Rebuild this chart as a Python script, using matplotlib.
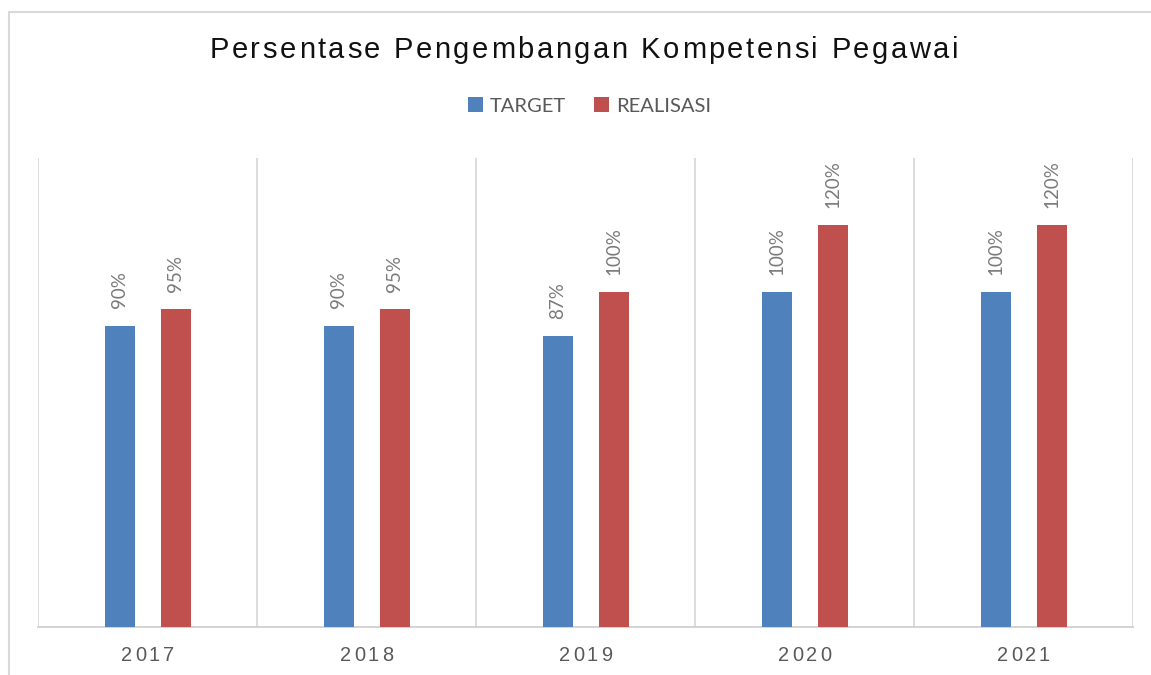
import matplotlib
matplotlib.use("Agg")
import matplotlib.pyplot as plt
import numpy as np
from matplotlib.patches import Rectangle
from matplotlib.font_manager import FontProperties, findfont
from matplotlib.ft2font import FT2Font

# Data
years = ["2017", "2018", "2019", "2020", "2021"]
target = [90, 90, 87, 100, 100]
realisasi = [95, 95, 100, 120, 120]
series_names = ["TARGET", "REALISASI"]
title = "Persentase Pengembangan Kompetensi Pegawai"

W, H = 1151, 675
fig = plt.figure(figsize=(W / 100, H / 100), dpi=100)
fig.patch.set_facecolor("white")

# outer chart border (runs off the right/bottom edge)
fig.patches.append(Rectangle((9 / W, -0.05), 1.2, 1 - 12 / H + 0.05, transform=fig.transFigure,
                             fill=False, edgecolor="#d9d9d9", linewidth=1.5))

ax = fig.add_axes([38 / W, 48 / H, (1133 - 38) / W, (627 - 158) / H])

x = np.arange(len(years))
off = 28 / 219
bw = 30 / 219
b1 = ax.bar(x - off, target, bw, color="#4f81bd", label=series_names[0], zorder=3)
b2 = ax.bar(x + off, realisasi, bw, color="#c0504d", label=series_names[1], zorder=3)

ax.set_xlim(-0.5, len(years) - 0.5)
ax.set_ylim(0, 140)
ax.set_yticks([])
ax.set_xticks([])
ax.set_xticks(np.arange(len(years) + 1) - 0.5, minor=True)
ax.tick_params(which="both", length=0)
ax.grid(which="minor", axis="x", color="#d9d9d9", linewidth=1.3, zorder=0)
for s in ["top", "left", "right"]:
    ax.spines[s].set_visible(False)
ax.spines["bottom"].set_color("#d0d0d0")
ax.spines["bottom"].set_linewidth(1.3)

# data labels
for bars, vals in [(b1, target), (b2, realisasi)]:
    for r, v in zip(bars, vals):
        ax.annotate(f"{v}%", (r.get_x() + r.get_width() / 2, v), xytext=(0, 17),
                    textcoords="offset pixels", rotation=90, ha="center", va="bottom",
                    fontsize=13.5, family="Lato", color="#7a7a7a")

# legend
leg = ax.legend(loc="center", bbox_to_anchor=(589.5 / W, 1 - 106 / H), bbox_transform=fig.transFigure,
                ncol=2, frameon=False, prop=FontProperties(family="Lato", size=14.5),
                handlelength=0.75, handleheight=0.75, handletextpad=0.35, columnspacing=1.4,
                labelcolor="#595959")


# text with letter spacing, drawn char by char
def spaced_text(cx, base_y, s, family, size, color, spacing):
    prop = FontProperties(family=family, size=size)
    font = FT2Font(findfont(prop), hinting_factor=1)
    font.set_size(size, fig.dpi)
    advs = [font.load_char(ord(c)).linearHoriAdvance / 65536 for c in s]
    total = sum(advs) + spacing * (len(s) - 1)
    xx = cx - total / 2
    for c, a in zip(s, advs):
        if c != " ":
            fig.text(xx / W, 1 - base_y / H, c, fontproperties=prop, color=color,
                     ha="left", va="baseline")
        xx += a + spacing


spaced_text(584, 58, title, "Liberation Sans", 21, "#111111", 2.65)

# year labels under each category
for i, yr in enumerate(years):
    px = ax.transData.transform((i, 0))[0]
    spaced_text(px, 661, yr, "Liberation Sans", 14.4, "#595959", 2.8)

fig.savefig("out.png", dpi=100)
